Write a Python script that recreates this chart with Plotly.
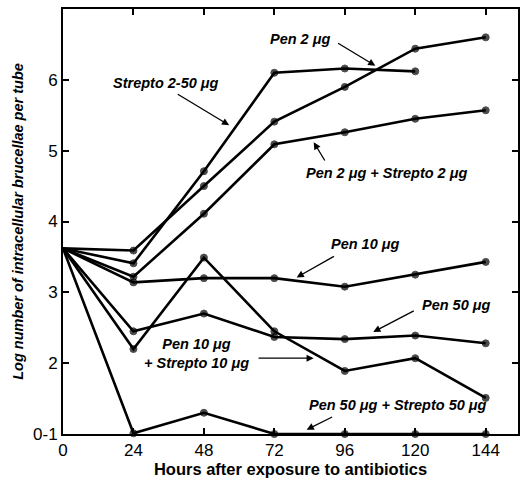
import plotly.graph_objects as go

hours = [0, 24, 48, 72, 96, 120, 144]

strepto_2_50 = [3.62, 3.41, 4.71, 6.10, 6.16, 6.12]
pen_2 = [3.62, 3.59, 4.50, 5.41, 5.90, 6.44, 6.60]
pen2_strepto2 = [3.62, 3.22, 4.11, 5.09, 5.26, 5.45, 5.57]
pen_10 = [3.62, 3.14, 3.20, 3.20, 3.08, 3.25, 3.43]
pen_50 = [3.62, 2.45, 2.70, 2.37, 2.34, 2.39, 2.28]
pen10_strepto10 = [3.62, 2.20, 3.49, 2.45, 1.89, 2.07, 1.51]
pen50_strepto50 = [3.62, 1.01, 1.30, 1.00, 1.00, 1.00, 1.00]

series = [strepto_2_50, pen_2, pen2_strepto2, pen_10, pen_50, pen10_strepto10, pen50_strepto50]

y_tick_vals = [1, 2, 3, 4, 5, 6]
y_tick_text = ["0-1", "2", "3", "4", "5", "6"]
x_tick_vals = [0, 24, 48, 72, 96, 120, 144]

# label text, text position, arrow tail, arrow head (data coords)
labels = [
    ("Pen 2 μg", (80.7, 6.58), (93.2, 6.53), (106.4, 6.20)),
    ("Strepto 2-50 μg", (35.2, 5.96), (38.6, 5.81), (56.6, 5.36)),
    ("Pen 2 μg + Strepto 2 μg", (110.1, 4.68), (89.5, 4.84), (85.4, 5.12)),
    ("Pen 10 μg", (103.0, 3.68), (92.8, 3.52), (79.6, 3.21)),
    ("Pen 50 μg", (133.9, 2.82), (120.0, 2.75), (105.7, 2.44)),
    ("Pen 10 μg<br>+ Strepto 10 μg", (45.4, 2.13), (66.1, 2.07), (85.4, 2.07)),
    ("Pen 50 μg + Strepto 50 μg", (114.2, 1.41), (92.2, 1.25), (83.0, 1.06)),
]

fig = go.Figure()
for s in series:
    n = len(s)
    fig.add_trace(go.Scatter(
        x=hours[:n], y=s, mode="lines+markers",
        line=dict(color="black", width=2.6),
        marker=dict(color="black", size=[0] + [7] * (n - 1),
                    line=dict(color="black", width=1)),
        cliponaxis=False, showlegend=False, hoverinfo="skip",
    ))

ann_font = dict(family="Liberation Sans, Arial, sans-serif", size=14.5, color="black")
for text, tpos, tail, head in labels:
    fig.add_annotation(x=tpos[0], y=tpos[1], text="<b><i>" + text + "</i></b>",
                       showarrow=False, font=ann_font, xref="x", yref="y")
    fig.add_annotation(x=head[0], y=head[1], ax=tail[0], ay=tail[1],
                       xref="x", yref="y", axref="x", ayref="y", text="",
                       showarrow=True, arrowhead=2, arrowsize=1.1, arrowwidth=1.3,
                       arrowcolor="black", standoff=0, startstandoff=0)

axis_font = dict(family="Liberation Sans, Arial, sans-serif", size=17, color="black")
fig.update_xaxes(range=[0, 155], tickvals=x_tick_vals, ticktext=[str(v) for v in x_tick_vals],
                 ticks="inside", ticklen=6, tickwidth=1.5, tickcolor="black",
                 showline=True, linecolor="black", linewidth=2, mirror="ticks",
                 showgrid=False, zeroline=False, tickfont=axis_font,
                 title=dict(text="<b>Hours after exposure to antibiotics</b>",
                            font=dict(family="Liberation Sans, Arial, sans-serif", size=16.5, color="black"),
                            standoff=4))
fig.update_yaxes(range=[1, 7], tickvals=y_tick_vals, ticktext=y_tick_text,
                 ticks="inside", ticklen=6, tickwidth=1.5, tickcolor="black",
                 showline=True, linecolor="black", linewidth=2, mirror="ticks",
                 showgrid=False, zeroline=False, tickfont=axis_font,
                 title=dict(text="<b><i>Log number of intracellular brucellae per tube</i></b>",
                            font=dict(family="Liberation Sans, Arial, sans-serif", size=14.5, color="black"),
                            standoff=6))
fig.update_layout(width=525, height=488, margin=dict(l=63, r=5, t=9, b=54),
                  plot_bgcolor="white", paper_bgcolor="white")

fig.write_html("out.html")
